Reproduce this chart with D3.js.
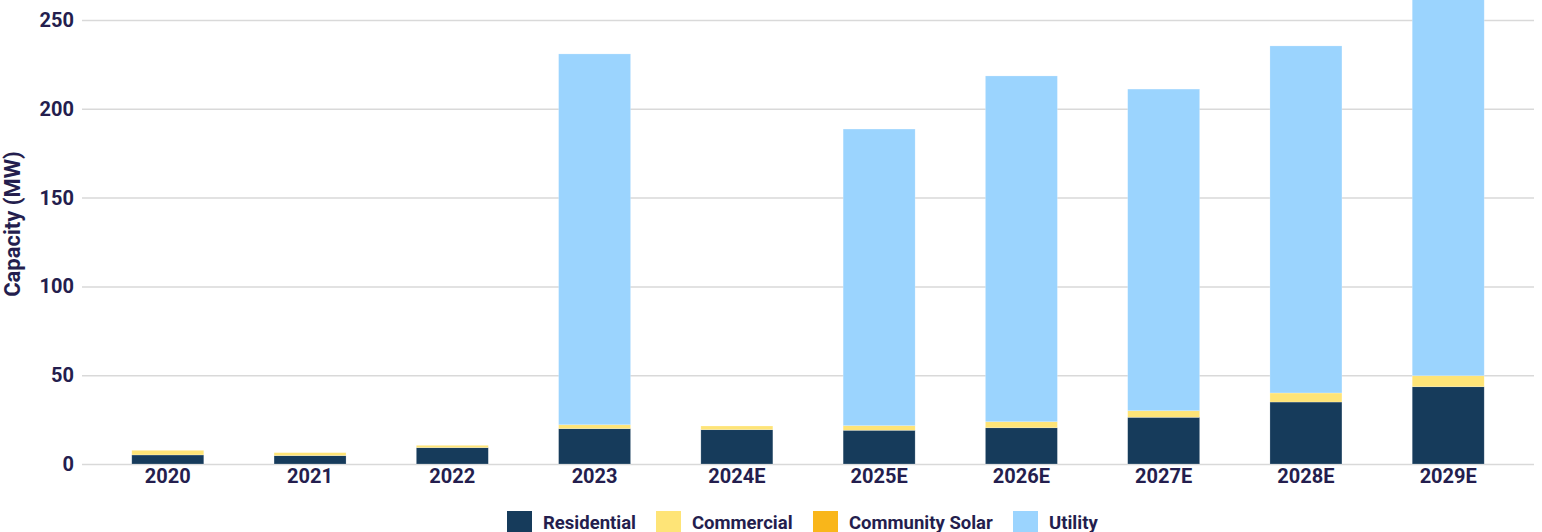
<!DOCTYPE html>
<html>
<head>
<meta charset="utf-8">
<script src="https://cdn.jsdelivr.net/npm/d3@7"></script>
<style>
  body { margin: 0; background: #fff; }
  svg { display: block; font-family: Roboto, sans-serif; }
</style>
</head>
<body>
<script>
const years = ['2020', '2021', '2022', '2023', '2024E', '2025E', '2026E', '2027E', '2028E', '2029E']
const residential = [5.1, 4.7, 9.2, 19.9, 19.3, 19.0, 20.4, 26.3, 34.9, 43.5]
const commercial = [2.6, 1.7, 1.3, 2.2, 2.1, 2.6, 3.4, 3.7, 5.1, 6.2]
const communitySolar = [0, 0, 0, 0, 0, 0, 0, 0, 0, 0]
const utility = [0, 0, 0, 208.8, 0, 167, 194.7, 181.1, 195.4, 225]
const yTicks = [0, 50, 100, 150, 200, 250]

const seriesNames = ['Residential', 'Commercial', 'Community Solar', 'Utility']
const colors = ['#163b5b', '#fee477', '#f9b61a', '#9bd4fe']
const textColor = '#241e4e'

const width = 1542
const height = 532
const margin = { left: 82, right: 8 }

const rows = years.map((y, i) => ({
    year: y,
    Residential: residential[i],
    Commercial: commercial[i],
    'Community Solar': communitySolar[i],
    Utility: utility[i]
}))

const stacked = d3.stack().keys(seriesNames)(rows)

const svg = d3.select('body')
    .append('svg')
    .attr('width', width)
    .attr('height', height)

const x = d3.scaleBand()
    .domain(years)
    .range([margin.left, width - margin.right])
    .paddingInner(0.494)
    .paddingOuter(0.35)

const y = d3.scaleLinear()
    .domain([0, 250])
    .range([464, 20])

// gridlines + y labels
const yAxis = svg.append('g')
    .attr('transform', `translate(${margin.left}, 0)`)
    .call(d3.axisLeft(y).tickValues(yTicks).tickSize(-(width - margin.left - margin.right)).tickPadding(8))
yAxis.attr('font-family', null)
yAxis.select('.domain').remove()
yAxis.selectAll('line').attr('stroke', '#d9d9d9').attr('stroke-width', 1.5)
yAxis.selectAll('text')
    .attr('fill', textColor)
    .style('font-family', 'Roboto, sans-serif')
    .style('font-size', '20px')
    .style('font-weight', 'bold')

// bars
svg.append('g')
    .selectAll('g')
    .data(stacked)
    .join('g')
    .attr('fill', (d, i) => colors[i])
    .selectAll('rect')
    .data(d => d)
    .join('rect')
    .attr('x', d => x(d.data.year))
    .attr('y', d => y(d[1]))
    .attr('width', x.bandwidth())
    .attr('height', d => y(d[0]) - y(d[1]))
    .attr('stroke', 'rgba(255,255,255,0.35)')
    .attr('stroke-width', 0.6)

// x axis labels
const xAxis = svg.append('g')
    .attr('transform', `translate(0, ${y(0)})`)
    .call(d3.axisBottom(x).tickSize(0).tickPadding(5))
xAxis.attr('font-family', null)
xAxis.select('.domain').remove()
xAxis.selectAll('text')
    .attr('fill', textColor)
    .style('font-family', 'Roboto, sans-serif')
    .style('font-size', '20px')
    .style('font-weight', 'bold')

// y axis title
svg.append('text')
    .attr('transform', 'translate(20, 224) rotate(-90)')
    .attr('text-anchor', 'middle')
    .attr('fill', textColor)
    .style('font-size', '22px')
    .style('font-weight', 'bold')
    .text('Capacity (MW)')

// legend
const legendX = [507, 656, 813, 1013]
const legend = svg.append('g')
    .selectAll('g')
    .data(seriesNames)
    .join('g')
    .attr('transform', (d, i) => `translate(${legendX[i]}, 511)`)
legend.append('rect')
    .attr('width', 25)
    .attr('height', 25)
    .attr('fill', (d, i) => colors[i])
legend.append('text')
    .attr('x', 36)
    .attr('y', 17.5)
    .attr('fill', textColor)
    .style('font-size', '18.5px')
    .style('font-weight', 'bold')
    .text(d => d)
</script>
</body>
</html>
